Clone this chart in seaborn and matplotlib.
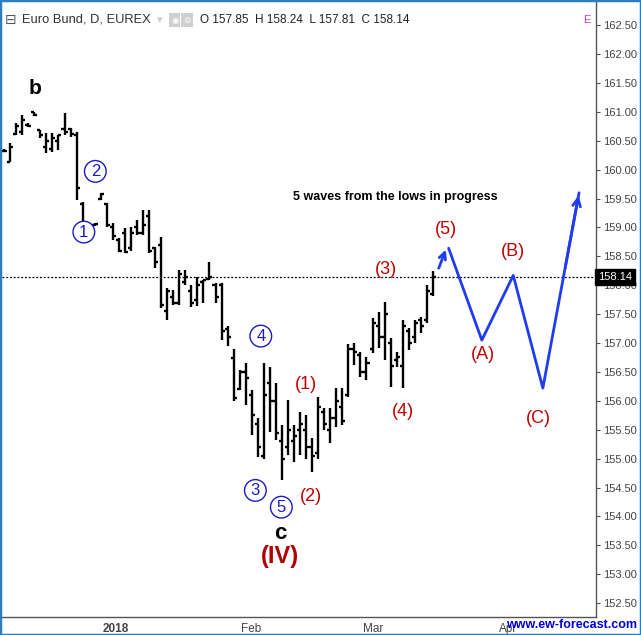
import matplotlib
matplotlib.use("Agg")
import matplotlib.pyplot as plt
import matplotlib.transforms as mtransforms
from matplotlib.patches import Rectangle
import numpy as np
import pandas as pd
import seaborn as sns

# daily OHLC bars, Euro Bund
OPENS = [160.33, 160.13, 160.62, 160.65, 160.78, 161.00, 160.68, 160.40, 160.35, 160.50,
         160.70, 160.70, 160.60, 159.40, 159.00, 159.05, 159.50, 159.40, 159.00, 158.78,
         158.90, 158.65, 159.00, 158.90, 159.20, 158.65, 158.70, 157.55, 157.80, 157.70,
         158.05, 157.90, 157.75, 158.05, 158.10, 158.00, 158.00, 157.25, 156.74, 156.20,
         156.50, 156.10, 155.60, 155.05, 156.30, 156.00, 155.30, 155.20, 155.30, 155.50,
         155.50, 155.20, 155.10, 155.80, 155.50, 155.70, 155.90, 156.10, 156.90, 156.80,
         156.50, 156.90, 157.30, 157.10, 157.00, 156.70, 156.60, 157.20, 157.10, 157.40,
         157.40, 157.85]
HIGHS = [160.36, 160.46, 160.80, 160.94, 160.80, 161.00, 160.68, 160.63, 160.63, 160.60,
         160.98, 160.72, 160.65, 159.44, 159.07, 159.08, 159.60, 159.42, 159.07, 158.81,
         158.99, 159.00, 159.13, 159.30, 159.30, 158.66, 158.83, 157.95, 157.92, 158.26,
         158.26, 158.00, 158.14, 158.09, 158.40, 158.04, 158.04, 157.30, 156.90, 156.53,
         156.65, 156.19, 155.70, 156.65, 156.58, 156.30, 155.58, 156.01, 155.58, 155.80,
         155.75, 155.35, 156.06, 155.87, 155.87, 156.22, 156.22, 156.99, 157.00, 156.84,
         156.76, 157.43, 157.53, 157.71, 157.08, 156.84, 157.40, 157.26, 157.40, 157.45,
         158.00, 158.24]
LOWS = [160.30, 160.13, 160.60, 160.60, 160.74, 160.93, 160.55, 160.29, 160.30, 160.34,
        160.60, 160.56, 159.47, 159.00, 158.87, 159.03, 159.47, 159.00, 158.78, 158.57,
        158.56, 158.60, 158.87, 158.87, 158.56, 158.30, 157.60, 157.40, 157.65, 157.65,
        158.00, 157.62, 157.64, 157.70, 158.09, 157.70, 157.05, 156.95, 156.00, 156.18,
        155.93, 155.41, 155.03, 155.00, 155.46, 155.32, 154.63, 155.06, 154.94, 155.06,
        155.00, 154.77, 155.00, 155.49, 155.27, 155.55, 155.58, 156.06, 156.62, 156.41,
        156.36, 156.83, 156.91, 156.70, 156.24, 156.58, 156.22, 156.88, 157.00, 157.17,
        157.34, 157.81]
CLOSES = [160.33, 160.40, 160.75, 160.85, 160.76, 160.95, 160.60, 160.50, 160.55, 160.60,
          160.65, 160.62, 159.68, 159.02, 159.05, 159.06, 159.57, 159.05, 158.85, 158.60,
          158.58, 158.90, 158.90, 159.05, 158.60, 158.40, 157.65, 157.90, 157.70, 158.20,
          158.15, 157.70, 158.00, 158.09, 158.15, 157.80, 157.20, 157.10, 156.05, 156.50,
          156.40, 155.75, 155.20, 156.10, 156.00, 155.45, 155.00, 155.50, 155.40, 155.60,
          155.20, 155.05, 155.90, 155.60, 155.70, 156.00, 155.65, 156.90, 156.85, 156.50,
          156.65, 157.35, 157.10, 157.50, 156.60, 156.75, 157.30, 157.00, 157.35, 157.30,
          157.90, 158.14]
LAST_PRICE = 158.14
XTICK_POS = [18.5, 40.9, 61.1, 83.4]
XTICK_LABELS = ["2018", "Feb", "Mar", "Apr"]

# projected wave path (A)-(B)-(C) and the wave (5) arrow
WAVE5_X = [71.8, 73.3]
WAVE5_Y = [158.25, 158.66]
PROJ_X = [73.6, 79.1, 84.3, 89.2, 95.2]
PROJ_Y = [158.64, 157.05, 158.17, 156.22, 159.60]

# wave labels: (text, x index, price)
CIRCLED = [("1", 13.2, 158.92), ("2", 15.1, 159.97), ("3", 41.6, 154.45),
           ("4", 42.5, 157.12), ("5", 45.9, 154.16)]
RED_LABELS = [("(1)", 50.0, 156.29), ("(2)", 50.8, 154.35), ("(3)", 63.2, 158.28),
              ("(4)", 66.1, 155.82), ("(5)", 73.2, 158.97), ("(A)", 79.3, 156.81),
              ("(B)", 84.3, 158.59), ("(C)", 88.4, 155.70)]

BLUE = "#1f3cf0"
RED = "#c00000"
AXIS_GRAY = "#555555"

sns.set_theme(style="white")
plt.rcParams["font.family"] = ["Liberation Sans", "DejaVu Sans"]

df = pd.DataFrame({"open": OPENS, "high": HIGHS, "low": LOWS, "close": CLOSES})
df["idx"] = np.arange(len(df))

fig = plt.figure(figsize=(6.41, 6.35), dpi=100)
ax = fig.add_axes([2 / 641, 18 / 635, 594 / 641, 615 / 635])

# OHLC bars
tick = 0.5
ax.vlines(df["idx"], df["low"], df["high"], color="black", lw=1.7)
ax.hlines(df["open"], df["idx"] - tick, df["idx"], color="black", lw=1.7)
ax.hlines(df["close"], df["idx"], df["idx"] + tick, color="black", lw=1.7)

ax.axhline(LAST_PRICE, color="black", lw=0.9, ls=(0, (1.5, 1.5)))

# projections
sns.lineplot(x=PROJ_X, y=PROJ_Y, sort=False, color=BLUE, lw=2, ax=ax)
ax.annotate("", xy=(PROJ_X[-1], PROJ_Y[-1]), xytext=(PROJ_X[-2] + 0.6 * (PROJ_X[-1] - PROJ_X[-2]),
            PROJ_Y[-2] + 0.6 * (PROJ_Y[-1] - PROJ_Y[-2])),
            arrowprops=dict(arrowstyle="->", color=BLUE, lw=2, mutation_scale=14))
ax.annotate("", xy=(WAVE5_X[1], WAVE5_Y[1]), xytext=(WAVE5_X[0], WAVE5_Y[0]),
            arrowprops=dict(arrowstyle="->", color=BLUE, lw=2, mutation_scale=12))

for txt, x, y in CIRCLED:
    ax.text(x, y, txt, ha="center", va="center", color="#1a1acc", fontsize=12,
            bbox=dict(boxstyle="circle,pad=0.2", fc="white", ec="#1a1acc", lw=1))
for txt, x, y in RED_LABELS:
    ax.text(x, y, txt, ha="center", va="center", color=RED, fontsize=13)

ax.text(5.1, 161.41, "b", ha="center", va="center", fontsize=15, fontweight="bold", color="black")
ax.text(45.7, 153.71, "c", ha="center", va="center", fontsize=16, fontweight="bold", color="black")
ax.text(45.7, 153.30, "(IV)", ha="center", va="center", fontsize=17, fontweight="bold", color="#b00000")
ax.text(64.7, 159.52, "5 waves from the lows in progress", ha="center", va="center",
        fontsize=9, fontweight="bold", color="black")

# axes
ax.set_xlim(-0.35, 98.0)
ax.set_ylim(152.26, 162.9)
ax.set_xticks(XTICK_POS)
ax.set_xticklabels(XTICK_LABELS)
for lbl in ax.get_xticklabels():
    if lbl.get_text() == "2018":
        lbl.set_fontweight("bold")
ax.set_yticks(np.arange(152.5, 162.51, 0.5))
ax.yaxis.set_major_formatter(matplotlib.ticker.FormatStrFormatter("%.2f"))
ax.yaxis.tick_right()
ax.tick_params(axis="y", direction="out", length=3, width=0.8, color=AXIS_GRAY,
               labelsize=8, labelcolor="#444444", pad=2)
ax.tick_params(axis="x", direction="out", length=3, width=0.8, color=AXIS_GRAY,
               labelsize=8.5, labelcolor="#444444", pad=1)
for side in ["top", "left"]:
    ax.spines[side].set_visible(False)
for side in ["right", "bottom"]:
    ax.spines[side].set_color(AXIS_GRAY)
    ax.spines[side].set_linewidth(1)
ax.grid(False)

trans = mtransforms.blended_transform_factory(ax.transAxes, ax.transData)
ax.text(1.003, LAST_PRICE, "158.14", transform=trans, ha="left", va="center", color="white",
        fontsize=8, bbox=dict(boxstyle="square,pad=0.25", fc="black", ec="black"), zorder=5,
        clip_on=False)

# header
fig.text(5 / 641, 1 - 20 / 635, "\u229f", fontsize=10, color="#555555", va="center",
         family="DejaVu Sans")
fig.text(22 / 641, 1 - 20 / 635, "Euro Bund, D, EUREX", fontsize=9.3, color="#333333",
         va="center")
fig.text(157 / 641, 1 - 20 / 635, "\u25be", fontsize=8, color="#cccccc", va="center",
         family="DejaVu Sans")
fig.text(171 / 641, 1 - 20 / 635, "\u25c9", fontsize=6, color="white", va="center",
         family="DejaVu Sans", bbox=dict(boxstyle="square,pad=0.25", fc="#d0d0d0", ec="none"))
fig.text(183 / 641, 1 - 20 / 635, "\u2699", fontsize=6, color="white", va="center",
         family="DejaVu Sans", bbox=dict(boxstyle="square,pad=0.25", fc="#d0d0d0", ec="none"))
fig.text(200 / 641, 1 - 20 / 635, "O 157.85  H 158.24  L 157.81  C 158.14", fontsize=8.5,
         color="#222222", va="center")
fig.text(583 / 641, 1 - 20 / 635, "E", fontsize=8, color="#c040c0", va="center")

fig.text(637 / 641, 1 - 625 / 635, "www.ew-forecast.com", fontsize=9, color="#0000dd",
         fontweight="bold", ha="right", va="center")

fig.add_artist(Rectangle((0, 0), 1, 1, transform=fig.transFigure, fill=False,
                         ec="#2a7fc0", lw=2.5))

fig.savefig("out.png", dpi=100)
